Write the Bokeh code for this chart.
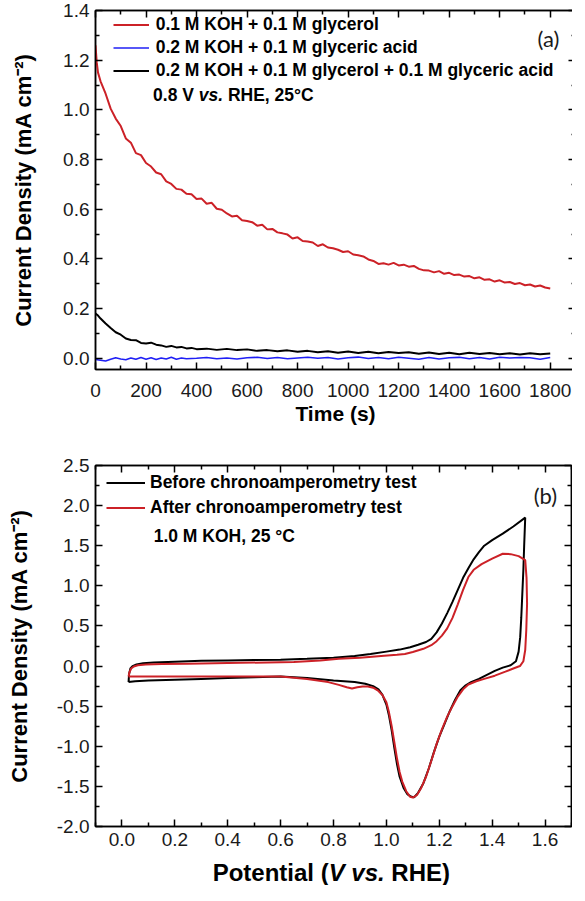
from bokeh.plotting import figure
from bokeh.models import (Range1d, LinearAxis, FixedTicker, Legend, LegendItem, Label)
from bokeh.layouts import column
from bokeh.embed import file_html
from bokeh.resources import INLINE

# ---------------- panel (a): chronoamperometry ----------------
glycerol_t = [0, 5, 10, 20, 40, 60, 80, 100, 120, 140, 160, 180, 200, 220, 240, 260, 280, 300,
              320, 340, 360, 380, 400, 420, 440, 460, 480, 500, 520, 540, 560, 580, 600, 620,
              640, 660, 680, 700, 720, 740, 760, 780, 800, 820, 840, 860, 880, 900, 920, 940,
              960, 980, 1000, 1020, 1040, 1060, 1080, 1100, 1120, 1140, 1160, 1180, 1200, 1220,
              1240, 1260, 1280, 1300, 1320, 1340, 1360, 1380, 1400, 1420, 1440, 1460, 1480,
              1500, 1520, 1540, 1560, 1580, 1600, 1620, 1640, 1660, 1680, 1700, 1720, 1740,
              1760, 1780, 1800]
glycerol_j = [1.26, 1.19, 1.15, 1.115, 1.065, 1.005, 0.965, 0.935, 0.885, 0.868, 0.826, 0.818,
              0.786, 0.772, 0.748, 0.741, 0.712, 0.702, 0.682, 0.679, 0.662, 0.660, 0.641, 0.643,
              0.622, 0.626, 0.602, 0.598, 0.583, 0.571, 0.574, 0.556, 0.553, 0.548, 0.534, 0.538,
              0.519, 0.521, 0.507, 0.503, 0.498, 0.482, 0.487, 0.472, 0.470, 0.466, 0.452, 0.459,
              0.446, 0.443, 0.437, 0.428, 0.431, 0.418, 0.415, 0.410, 0.398, 0.392, 0.380, 0.383,
              0.377, 0.384, 0.374, 0.377, 0.369, 0.372, 0.360, 0.354, 0.353, 0.346, 0.351, 0.340,
              0.344, 0.335, 0.337, 0.329, 0.331, 0.322, 0.326, 0.316, 0.318, 0.309, 0.314, 0.305,
              0.307, 0.299, 0.303, 0.294, 0.297, 0.289, 0.293, 0.285, 0.281]

acid_t = [0, 20, 40, 60, 80, 100, 120, 140, 160, 180, 200, 220, 240, 260, 280, 300, 320, 340,
          360, 400, 440, 480, 520, 560, 600, 640, 680, 720, 760, 800, 840, 880, 920, 960, 1000,
          1040, 1080, 1120, 1160, 1200, 1240, 1280, 1320, 1360, 1400, 1440, 1480, 1520, 1560,
          1600, 1640, 1680, 1720, 1760, 1800]
acid_j = [-0.005, -0.008, -0.011, -0.004, 0.002, -0.003, -0.006, 0.001, -0.004, 0.003, -0.004,
          0.002, -0.005, 0.001, -0.003, 0.004, -0.004, 0.001, -0.002, 0.000, 0.003, -0.002, 0.001,
          -0.003, 0.002, 0.004, -0.001, 0.003, -0.002, 0.001, 0.004, 0.000, 0.003, -0.003, 0.002,
          0.005, -0.001, 0.003, -0.002, 0.004, 0.000, -0.004, 0.003, -0.003, 0.002, 0.004, -0.002,
          0.003, -0.003, 0.004, 0.001, 0.003, 0.002, -0.004, 0.003]

mix_t = [0, 10, 20, 40, 60, 80, 100, 120, 140, 160, 180, 200, 220, 240, 260, 280, 300, 320, 340,
         360, 380, 400, 440, 480, 520, 560, 600, 640, 680, 720, 760, 800, 840, 880, 920, 960,
         1000, 1040, 1080, 1120, 1160, 1200, 1240, 1280, 1320, 1360, 1400, 1440, 1480, 1520,
         1560, 1600, 1640, 1680, 1720, 1760, 1800]
mix_j = [0.180, 0.172, 0.160, 0.140, 0.122, 0.105, 0.095, 0.080, 0.074, 0.073, 0.062, 0.060,
         0.063, 0.055, 0.052, 0.046, 0.050, 0.044, 0.046, 0.040, 0.042, 0.037, 0.039, 0.034,
         0.038, 0.033, 0.036, 0.030, 0.033, 0.028, 0.032, 0.026, 0.030, 0.024, 0.028, 0.022,
         0.027, 0.021, 0.026, 0.020, 0.025, 0.021, 0.024, 0.018, 0.023, 0.017, 0.022, 0.016,
         0.022, 0.017, 0.021, 0.016, 0.020, 0.015, 0.020, 0.016, 0.019]

a_series_labels = ["0.1 M KOH + 0.1 M glycerol",
                   "0.2 M KOH + 0.1 M glyceric acid",
                   "0.2 M KOH + 0.1 M glycerol + 0.1 M glyceric acid"]
a_x_ticks = [0, 200, 400, 600, 800, 1000, 1200, 1400, 1600, 1800]
a_x_labels = ["0", "200", "400", "600", "800", "1000", "1200", "1400", "1600", "1800"]
a_x_minor = [100, 300, 500, 700, 900, 1100, 1300, 1500, 1700, 1900]
a_y_ticks = [0.0, 0.2, 0.4, 0.6, 0.8, 1.0, 1.2, 1.4]
a_y_labels = ["0.0", "0.2", "0.4", "0.6", "0.8", "1.0", "1.2", "1.4"]
a_y_minor = [0.1, 0.3, 0.5, 0.7, 0.9, 1.1, 1.3]

# ---------------- panel (b): cyclic voltammetry ----------------
before_E = [0.025, 0.027, 0.032, 0.040, 0.055, 0.08, 0.12, 0.20, 0.30, 0.40, 0.50, 0.60, 0.70,
            0.80, 0.88, 0.94, 1.00, 1.05, 1.09, 1.12, 1.15, 1.17, 1.19, 1.21, 1.23, 1.25, 1.27,
            1.29, 1.31, 1.33, 1.35, 1.37, 1.40, 1.44, 1.48, 1.525,
            1.521, 1.518, 1.514, 1.510, 1.506, 1.500, 1.49, 1.47, 1.44, 1.41, 1.38, 1.35, 1.32,
            1.30, 1.28, 1.26, 1.24, 1.22, 1.20, 1.18, 1.16, 1.14, 1.12, 1.105, 1.095, 1.08, 1.065,
            1.05, 1.04, 1.03, 1.02, 1.01, 1.00, 0.985, 0.97, 0.95, 0.92, 0.88, 0.80, 0.70, 0.60,
            0.50, 0.40, 0.30, 0.20, 0.10, 0.05, 0.025]
before_j = [-0.20, -0.10, -0.03, 0.00, 0.02, 0.035, 0.045, 0.055, 0.065, 0.07, 0.075, 0.08,
            0.09, 0.105, 0.125, 0.15, 0.18, 0.205, 0.235, 0.265, 0.30, 0.34, 0.42, 0.53, 0.66,
            0.80, 0.95, 1.10, 1.22, 1.33, 1.42, 1.50, 1.57, 1.65, 1.74, 1.85,
            1.50, 1.20, 0.90, 0.60, 0.36, 0.18, 0.06, 0.01, -0.02, -0.06, -0.11, -0.16, -0.20,
            -0.24, -0.30, -0.42, -0.56, -0.72, -0.88, -1.07, -1.28, -1.46, -1.58, -1.635, -1.63,
            -1.60, -1.52, -1.38, -1.22, -1.02, -0.80, -0.62, -0.48, -0.36, -0.29, -0.25, -0.22,
            -0.20, -0.18, -0.15, -0.13, -0.14, -0.15, -0.16, -0.17, -0.18, -0.19, -0.20]

after_E = [0.025, 0.028, 0.035, 0.045, 0.06, 0.09, 0.15, 0.25, 0.35, 0.45, 0.55, 0.65, 0.75,
           0.82, 0.90, 0.98, 1.04, 1.07, 1.10, 1.14, 1.17, 1.19, 1.21, 1.23, 1.25, 1.27, 1.29,
           1.31, 1.33, 1.36, 1.40, 1.44, 1.47, 1.50, 1.525,
           1.530, 1.532, 1.529, 1.525, 1.518, 1.505, 1.48, 1.45, 1.41, 1.37, 1.34, 1.31, 1.29,
           1.27, 1.25, 1.23, 1.21, 1.19, 1.17, 1.15, 1.13, 1.115, 1.10, 1.09, 1.075, 1.06, 1.05,
           1.04, 1.03, 1.02, 1.01, 1.00, 0.985, 0.97, 0.95, 0.93, 0.91, 0.89, 0.87, 0.85, 0.82,
           0.78, 0.70, 0.60, 0.50, 0.40, 0.30, 0.20, 0.10, 0.05, 0.025]
after_j = [-0.13, -0.08, -0.03, -0.005, 0.01, 0.02, 0.025, 0.03, 0.035, 0.04, 0.045, 0.05, 0.07,
           0.09, 0.105, 0.125, 0.14, 0.15, 0.175, 0.215, 0.26, 0.31, 0.38, 0.47, 0.60, 0.77, 0.95,
           1.11, 1.20, 1.27, 1.34, 1.40, 1.395, 1.37, 1.32,
           1.10, 0.78, 0.45, 0.20, 0.06, 0.00, -0.03, -0.07, -0.12, -0.16, -0.19, -0.23, -0.29,
           -0.38, -0.50, -0.63, -0.79, -0.97, -1.18, -1.38, -1.53, -1.61, -1.64, -1.63, -1.56,
           -1.44, -1.32, -1.15, -0.95, -0.75, -0.58, -0.45, -0.36, -0.31, -0.27, -0.255, -0.255,
           -0.265, -0.28, -0.265, -0.235, -0.20, -0.16, -0.13, -0.13, -0.13, -0.13, -0.13, -0.13,
           -0.13, -0.13, -0.13]

b_series_labels = ["Before chronoamperometry test", "After chronoamperometry test"]
b_x_ticks = [0.0, 0.2, 0.4, 0.6, 0.8, 1.0, 1.2, 1.4, 1.6]
b_x_labels = ["0.0", "0.2", "0.4", "0.6", "0.8", "1.0", "1.2", "1.4", "1.6"]
b_x_minor = [-0.1, 0.1, 0.3, 0.5, 0.7, 0.9, 1.1, 1.3, 1.5, 1.7]
b_y_ticks = [-2.0, -1.5, -1.0, -0.5, 0.0, 0.5, 1.0, 1.5, 2.0, 2.5]
b_y_labels = ["-2.0", "-1.5", "-1.0", "-0.5", "0.0", "0.5", "1.0", "1.5", "2.0", "2.5"]
b_y_minor = [-1.75, -1.25, -0.75, -0.25, 0.25, 0.75, 1.25, 1.75, 2.25]

RED = "#cc2127"
BLUE = "#1f1ff5"
BLACK = "#000000"
SANS = "Liberation Sans"
LEG_SIZE = "17.5px"


def style_axis(ax, ticks, labels, minor, show_labels=True, standoff=6):
    ax.ticker = FixedTicker(ticks=ticks, minor_ticks=minor)
    ax.axis_line_color = "black"
    ax.axis_line_width = 1.5
    ax.major_tick_in = 7
    ax.major_tick_out = 0
    ax.minor_tick_in = 4
    ax.minor_tick_out = 0
    ax.major_tick_line_width = 1.5
    ax.minor_tick_line_width = 1.5
    ax.major_tick_line_color = "black"
    ax.minor_tick_line_color = "black"
    if show_labels:
        ax.major_label_overrides = {t: l for t, l in zip(ticks, labels)}
        ax.major_label_text_font = SANS
        ax.major_label_text_font_size = "19px"
        ax.major_label_text_color = "#1a1a1a"
        ax.major_label_standoff = standoff
        ax.axis_label_text_font = SANS
        ax.axis_label_text_font_style = "bold"
        ax.axis_label_text_color = "black"
    else:
        ax.major_label_text_font_size = "0px"
        ax.major_label_text_color = None
        ax.major_label_standoff = 0
        ax.axis_label = None


def make_fig(fw, fh, left, right, top, bottom, xr, yr):
    p = figure(frame_width=fw, frame_height=fh, min_border_left=left, min_border_right=right,
               min_border_top=top, min_border_bottom=bottom, x_range=xr, y_range=yr,
               output_backend="svg", toolbar_location=None)
    p.xgrid.visible = False
    p.ygrid.visible = False
    p.outline_line_color = "black"
    p.outline_line_width = 1.5
    p.background_fill_color = "white"
    p.border_fill_color = "white"
    return p


def bold_label(fig, x, y, text, style="bold", size=LEG_SIZE, x_offset=0, baseline="middle"):
    fig.add_layout(Label(x=x, y=y, x_offset=x_offset, text=text, text_font=SANS,
                         text_font_style=style, text_font_size=size, text_color="black",
                         text_baseline=baseline))


# ---------- figure (a) ----------
p1 = make_fig(480, 359, 91, 1, 10, 60, Range1d(0, 1900), Range1d(-0.045, 1.4))
style_axis(p1.xaxis[0], a_x_ticks, a_x_labels, a_x_minor, standoff=14)
style_axis(p1.yaxis[0], a_y_ticks, a_y_labels, a_y_minor)
p1.xaxis[0].axis_label = "Time (s)"
p1.xaxis[0].axis_label_text_font_size = "21px"
p1.xaxis[0].axis_label_standoff = 2
p1.yaxis[0].axis_label = "Current Density (mA cm\u207b\u00b2)"
p1.yaxis[0].axis_label_text_font_size = "22px"
p1.yaxis[0].axis_label_standoff = 24
top_ax = LinearAxis()
style_axis(top_ax, a_x_ticks, a_x_labels, a_x_minor, show_labels=False)
p1.add_layout(top_ax, "above")
right_ax = LinearAxis()
style_axis(right_ax, a_y_ticks, a_y_labels, a_y_minor, show_labels=False)
p1.add_layout(right_ax, "right")

r_gly = p1.line(glycerol_t, glycerol_j, line_color=RED, line_width=2)
r_acid = p1.line(acid_t, acid_j, line_color=BLUE, line_width=1.6)
r_mix = p1.line(mix_t, mix_j, line_color=BLACK, line_width=2)

leg1 = Legend(items=[LegendItem(label=a_series_labels[0], renderers=[r_gly]),
                     LegendItem(label=a_series_labels[1], renderers=[r_acid]),
                     LegendItem(label=a_series_labels[2], renderers=[r_mix])],
              location=(24, 288), padding=0, margin=0, border_line_color=None,
              background_fill_alpha=0, label_text_font=SANS, label_text_font_style="bold",
              label_text_font_size=LEG_SIZE, label_text_color="black", glyph_width=36,
              glyph_height=21, label_height=21, spacing=2, label_standoff=7)
p1.add_layout(leg1)

cond_x, cond_y = 228, 1.06
bold_label(p1, cond_x, cond_y, "0.8 V")
bold_label(p1, cond_x, cond_y, "vs.", style="bold italic", x_offset=45.7)
bold_label(p1, cond_x, cond_y, "RHE, 25\u00b0C", x_offset=74.8)
p1.add_layout(Label(x=1750, y=1.286, text="(a)", text_font="Lato", text_font_size="22px",
                    text_baseline="middle", text_color="#1a1a1a"))

# ---------- figure (b) ----------
xr_b = Range1d(-0.1, 1.7)
p2 = make_fig(476, 361, 95, 1, 36, 28, xr_b, Range1d(-2.0, 2.5))
style_axis(p2.xaxis[0], b_x_ticks, b_x_labels, b_x_minor, standoff=6)
style_axis(p2.yaxis[0], b_y_ticks, b_y_labels, b_y_minor)
p2.yaxis[0].axis_label = "Current Density (mA cm\u207b\u00b2)"
p2.yaxis[0].axis_label_text_font_size = "22px"
p2.yaxis[0].axis_label_standoff = 22
top_ax2 = LinearAxis()
style_axis(top_ax2, b_x_ticks, b_x_labels, b_x_minor, show_labels=False)
p2.add_layout(top_ax2, "above")
right_ax2 = LinearAxis()
style_axis(right_ax2, b_y_ticks, b_y_labels, b_y_minor, show_labels=False)
p2.add_layout(right_ax2, "right")

r_before = p2.line(before_E, before_j, line_color=BLACK, line_width=2)
r_after = p2.line(after_E, after_j, line_color=RED, line_width=2)

leg2 = Legend(items=[LegendItem(label=b_series_labels[0], renderers=[r_before]),
                     LegendItem(label=b_series_labels[1], renderers=[r_after])],
              location=(11, 308), padding=0, margin=0, border_line_color=None,
              background_fill_alpha=0, label_text_font=SANS, label_text_font_style="bold",
              label_text_font_size=LEG_SIZE, label_text_color="black", glyph_width=39,
              glyph_height=21, label_height=21, spacing=4, label_standoff=5)
p2.add_layout(leg2)
bold_label(p2, 0.12, 1.625, "1.0 M KOH, 25 \u00b0C")
p2.add_layout(Label(x=1.557, y=2.125, text="(b)", text_font="Lato", text_font_size="22px",
                    text_baseline="middle", text_color="#1a1a1a"))

# ---------- strip holding the x-axis title of (b), with italic "V vs." ----------
p3 = figure(frame_width=476, frame_height=31, min_border_left=95, min_border_right=1,
            min_border_top=0, min_border_bottom=0, x_range=xr_b, y_range=Range1d(0, 1),
            x_axis_location=None, y_axis_location=None,
            output_backend="svg", toolbar_location=None)
p3.xgrid.visible = False
p3.ygrid.visible = False
p3.outline_line_color = None
pot_x, pot_y = 0.343, 0.0
for txt, style, off in [("Potential (", "bold", 0.0), ("V vs.", "bold italic", 116.0),
                        ("RHE)", "bold", 178.7)]:
    bold_label(p3, pot_x, pot_y, txt, style=style, size="24px", x_offset=off,
               baseline="bottom")

layout = column(p1, p2, p3, spacing=0)
open("out.html", "w").write(file_html(layout, INLINE))
